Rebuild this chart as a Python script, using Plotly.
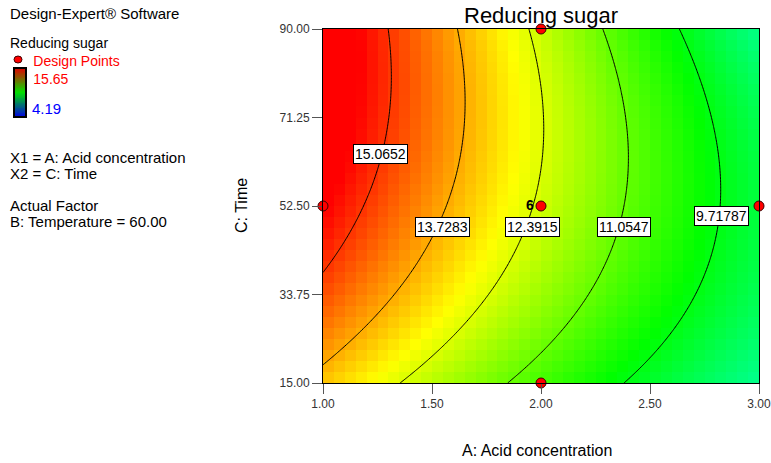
import numpy as np
import plotly.graph_objects as go

# ---------------- data ----------------
chart_title = "Reducing sugar"
x_title = "A: Acid concentration"
y_title = "C: Time"
x_ticks = [1.0, 1.5, 2.0, 2.5, 3.0]
x_tick_text = ["1.00", "1.50", "2.00", "2.50", "3.00"]
y_ticks = [15.0, 33.75, 52.5, 71.25, 90.0]
y_tick_text = ["15.00", "33.75", "52.50", "71.25", "90.00"]

# fitted quadratic response-surface coefficients (coded units)
coef_b0 = 12.27
coef_A = -3.27
coef_C = 0.755
coef_AC = -0.72
coef_AA = 0.20
coef_CC = -0.855
A_range = [1.0, 3.0]
C_range = [15.0, 90.0]

contour_levels = [9.71787, 11.0547, 12.3915, 13.7283, 15.0652]
label_x = [2.830, 2.381, 1.959, 1.546, 1.266]
label_y = [50.4, 48.05, 48.05, 48.05, 63.5]

design_A = [1.0, 2.0, 2.0, 2.0, 3.0]
design_C = [52.5, 90.0, 52.5, 15.0, 52.5]
design_reps = ["", "", "<b>6</b>", "", ""]

z_min, z_max = 4.19, 15.65

side_texts = [
    ("Design-Expert® Software", 13.5),
    ("X1 = A: Acid concentration", 157),
    ("X2 = C: Time", 173),
    ("Actual Factor", 205),
    ("B: Temperature = 60.00", 221),
]
response_name = "Reducing sugar"

# ---------------- helpers ----------------
W, H = 771, 463
FONT = "Arial, Liberation Sans, sans-serif"


def px(x):
    return x / W


def py(y):
    return 1 - y / H


def model(A, C):
    a = (A - (A_range[0] + A_range[1]) / 2) / ((A_range[1] - A_range[0]) / 2)
    c = (C - (C_range[0] + C_range[1]) / 2) / ((C_range[1] - C_range[0]) / 2)
    return (coef_b0 + coef_A * a + coef_C * c + coef_AC * a * c
            + coef_AA * a * a + coef_CC * c * c)


# coarse cells (like the pixelated rendering)
nx, ny = 40, 32
dx = (A_range[1] - A_range[0]) / nx
dy = (C_range[1] - C_range[0]) / ny
hx = A_range[0] + dx * (np.arange(nx) + 0.5)
hy = C_range[0] + dy * (np.arange(ny) + 0.5)
HX, HY = np.meshgrid(hx, hy)
HZ = model(HX, HY)

# fine grid for contour lines
fx = np.linspace(A_range[0], A_range[1], 241)
fy = np.linspace(C_range[0], C_range[1], 241)
FX, FY = np.meshgrid(fx, fy)
FZ = model(FX, FY)

cscale = [[0.0, "rgb(0,0,255)"], [0.25, "rgb(0,255,255)"], [0.5, "rgb(0,255,0)"],
          [0.75, "rgb(255,255,0)"], [1.0, "rgb(255,0,0)"]]

fig = go.Figure()
fig.add_trace(go.Heatmap(x=hx, y=hy, z=HZ, zmin=z_min, zmax=z_max, colorscale=cscale,
                         showscale=False, hoverinfo="skip"))
fig.add_trace(go.Contour(x=fx, y=fy, z=FZ, autocontour=False,
                         contours=dict(start=contour_levels[0], end=contour_levels[-1] + 1e-6,
                                       size=(contour_levels[-1] - contour_levels[0]) / (len(contour_levels) - 1),
                                       coloring="none", showlabels=False),
                         line=dict(color="black", width=1), showscale=False, hoverinfo="skip"))
fig.add_trace(go.Scatter(x=design_A, y=design_C, mode="markers+text", text=design_reps,
                         textposition="middle left",
                         textfont=dict(family=FONT, size=14, color="black"),
                         marker=dict(size=10, color="#ff0000", line=dict(color="#400000", width=1)),
                         cliponaxis=False, showlegend=False, hoverinfo="skip"))

# legend color bar
legend_vals = np.linspace(z_min, z_max, 60)
fig.add_trace(go.Heatmap(x=[0], y=legend_vals, z=legend_vals.reshape(-1, 1), xaxis="x2", yaxis="y2",
                         zmin=z_min, zmax=z_max,
                         colorscale=[[0, "rgb(0,0,225)"], [0.5, "rgb(0,225,0)"], [1, "rgb(225,0,0)"]],
                         showscale=False, hoverinfo="skip"))

annotations = []
for lv, lx, ly in zip(contour_levels, label_x, label_y):
    annotations.append(dict(x=lx, y=ly, xref="x", yref="y", text=f"{lv:g}", showarrow=False,
                            font=dict(family=FONT, size=14, color="black"),
                            bgcolor="white", bordercolor="black", borderwidth=1, borderpad=1))

annotations.append(dict(x=px(541), y=py(16), xref="paper", yref="paper", text=chart_title,
                        showarrow=False, font=dict(family=FONT, size=22, color="black"),
                        xanchor="center", yanchor="middle"))
annotations.append(dict(x=px(537), y=py(450), xref="paper", yref="paper", text=x_title,
                        showarrow=False, font=dict(family=FONT, size=16, color="black"),
                        xanchor="center", yanchor="middle"))
annotations.append(dict(x=px(242), y=py(206), xref="paper", yref="paper", text=y_title,
                        showarrow=False, font=dict(family=FONT, size=16, color="black"),
                        textangle=-90, xanchor="center", yanchor="middle"))
for t, yy in side_texts:
    annotations.append(dict(x=px(8), y=py(yy), xref="paper", yref="paper", text=t, showarrow=False,
                            font=dict(family=FONT, size=15, color="black"),
                            xanchor="left", yanchor="middle"))
indent = "&nbsp;" * 6
legend_block = (f"{response_name}<br>"
                f"<span style='color:#ff0000'>{indent}Design Points</span><br>"
                f"<span style='color:#ff0000'>{indent}{z_max:.2f}</span>")
annotations.append(dict(x=px(8), y=py(61), xref="paper", yref="paper", text=legend_block,
                        showarrow=False, font=dict(family=FONT, size=14, color="black"),
                        xanchor="left", yanchor="middle", align="left"))
annotations.append(dict(x=px(30), y=py(108), xref="paper", yref="paper", text=f"{z_min:.2f}",
                        showarrow=False, font=dict(family=FONT, size=15, color="#0000ff"),
                        xanchor="left", yanchor="middle"))

shapes = [
    dict(type="rect", xref="paper", yref="paper", x0=px(14), x1=px(26), y0=py(117), y1=py(68),
         line=dict(color="black", width=2)),
    dict(type="circle", xref="paper", yref="paper", x0=px(14), x1=px(22), y0=py(63), y1=py(56),
         fillcolor="#ff0000", line=dict(color="#400000", width=1)),
]

axis_font = dict(family=FONT, size=12, color="#333333")
fig.update_layout(
    width=W, height=H, margin=dict(l=0, r=0, t=0, b=0, pad=0, autoexpand=False),
    paper_bgcolor="white", plot_bgcolor="white", showlegend=False,
    xaxis=dict(domain=[px(323), px(759)], range=A_range, tickvals=x_ticks, ticktext=x_tick_text,
               ticks="outside", ticklen=10, tickcolor="#555555", tickwidth=1,
               showline=True, linecolor="black", linewidth=1, mirror=True, automargin=False,
               ticklabeloverflow="allow",
               showgrid=False, zeroline=False, tickfont=axis_font),
    yaxis=dict(domain=[py(383), py(29)], range=C_range, tickvals=y_ticks, ticktext=y_tick_text,
               ticks="outside", ticklen=10, tickcolor="#555555", tickwidth=1,
               showline=True, linecolor="black", linewidth=1, mirror=True, automargin=False,
               ticklabeloverflow="allow",
               showgrid=False, zeroline=False, tickfont=axis_font),
    xaxis2=dict(domain=[px(14), px(26)], visible=False, anchor="y2", fixedrange=True, automargin=False),
    yaxis2=dict(domain=[py(117), py(68)], visible=False, anchor="x2", fixedrange=True,
                range=[z_min, z_max], automargin=False),
    annotations=annotations, shapes=shapes,
)

fig.write_html("out.html")
